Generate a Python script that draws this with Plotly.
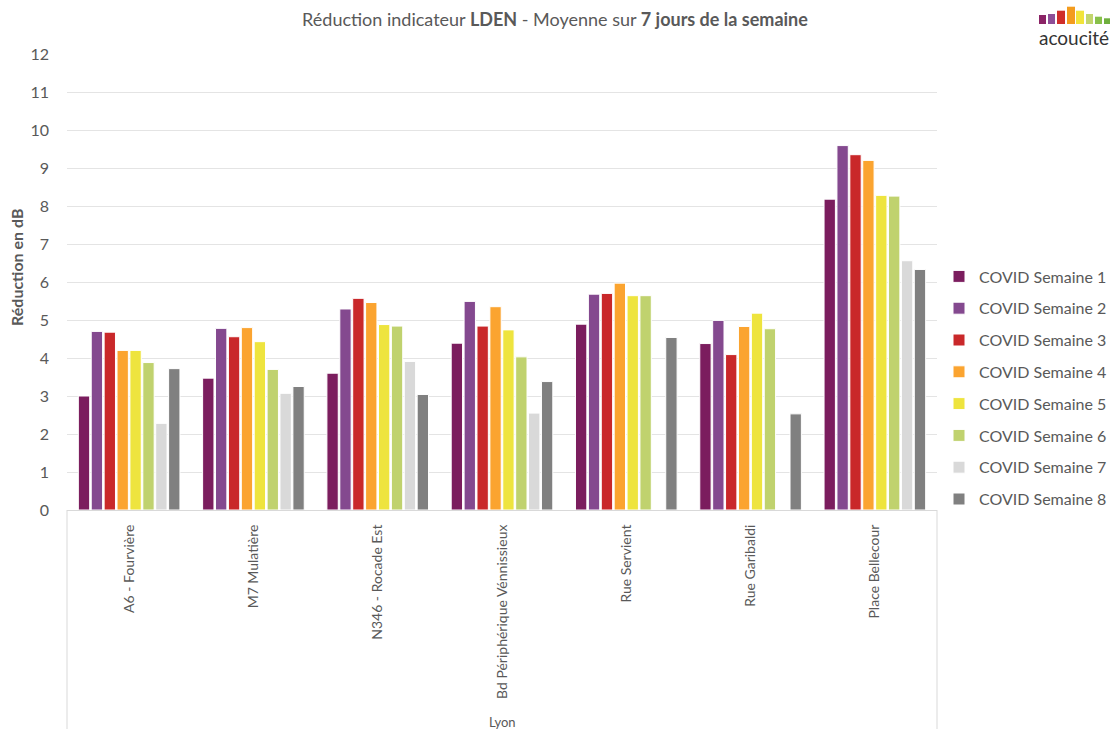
import plotly.graph_objects as go

categories = ["A6 - Fourvière", "M7 Mulatière", "N346 - Rocade Est",
              "Bd Périphérique Vénnissieux", "Rue Servient", "Rue Garibaldi",
              "Place Bellecour"]
series_names = ["COVID Semaine 1", "COVID Semaine 2", "COVID Semaine 3", "COVID Semaine 4",
                "COVID Semaine 5", "COVID Semaine 6", "COVID Semaine 7", "COVID Semaine 8"]
semaine1 = [3.00, 3.47, 3.60, 4.39, 4.89, 4.38, 8.18]
semaine2 = [4.70, 4.78, 5.29, 5.49, 5.68, 4.99, 9.59]
semaine3 = [4.68, 4.56, 5.57, 4.84, 5.70, 4.09, 9.35]
semaine4 = [4.20, 4.80, 5.46, 5.35, 5.97, 4.83, 9.20]
semaine5 = [4.20, 4.43, 4.88, 4.74, 5.64, 5.18, 8.28]
semaine6 = [3.88, 3.70, 4.84, 4.03, 5.64, 4.77, 8.26]
semaine7 = [2.28, 3.07, 3.91, 2.55, None, None, 6.56]
semaine8 = [3.72, 3.25, 3.04, 3.38, 4.54, 2.53, 6.33]
all_series = [semaine1, semaine2, semaine3, semaine4, semaine5, semaine6, semaine7, semaine8]
colors = ["#7B1D5E", "#84498F", "#C9282A", "#FBA430", "#EEE43E", "#C0D26E", "#D9D9D9", "#808080"]
y_ticks = list(range(0, 13))

W, H = 1113, 729
L, R, T, B = 67, 937, 54, 510

def px(x):
    return (x - L) / (R - L)

def py(y):
    return (B - y) / (B - T)

FONT = "Lato"
GREY = "#595959"

fig = go.Figure()
for name, vals, col in zip(series_names, all_series, colors):
    fig.add_trace(go.Bar(
        x=categories, y=vals, name=name, legendgroup=name,
        marker=dict(color=col, line=dict(color="white", width=1)),
    ))

shapes = [
    dict(type="line", xref="paper", yref="paper", x0=0, x1=0, y0=0, y1=py(729),
         line=dict(color="#D9D9D9", width=1)),
    dict(type="line", xref="paper", yref="paper", x0=1, x1=1, y0=0, y1=py(729),
         line=dict(color="#D9D9D9", width=1)),
]
# logo bars
logo = [(1039, 1046, 15, "#8B2466"), (1048, 1055, 14, "#8E4E97"), (1057, 1065, 10.7, "#D02E2A"),
        (1067, 1075, 6.7, "#F39C1E"), (1076, 1084, 10.7, "#F2E43A"), (1086, 1093, 14, "#C2D56E"),
        (1095, 1102, 16.7, "#88C04A"), (1104, 1110, 18.3, "#6FAF3E")]
for x0, x1, top, c in logo:
    shapes.append(dict(type="rect", xref="paper", yref="paper", x0=px(x0), x1=px(x1),
                       y0=py(24), y1=py(top), fillcolor=c, line=dict(width=0)))

annotations = [
    dict(text="Lyon", xref="paper", yref="paper", x=px(502), y=py(722), showarrow=False,
         font=dict(family=FONT, size=13, color=GREY), xanchor="center", yanchor="middle"),
    dict(text="<b>Réduction en dB</b>", xref="paper", yref="paper", x=px(16), y=py(268),
         textangle=-90, showarrow=False, font=dict(family=FONT, size=16, color=GREY),
         xanchor="center", yanchor="middle"),
    dict(text="acoucité", xref="paper", yref="paper", x=px(1074), y=py(37), showarrow=False,
         font=dict(family=FONT, size=19, color="#333333"), xanchor="center", yanchor="middle"),
]

fig.update_layout(
    width=W, height=H,
    margin=dict(l=L, r=W - R, t=T, b=H - B, pad=0, autoexpand=False),
    paper_bgcolor="white", plot_bgcolor="white",
    barmode="group", bargap=0.17, bargroupgap=0.12,
    title=dict(text="Réduction indicateur <b>LDEN</b> - Moyenne sur <b>7 jours de la semaine</b>",
               x=555 / W, y=1 - 20 / H, xanchor="center", yanchor="middle", xref="container", yref="container",
               font=dict(family=FONT, size=18, color=GREY)),
    font=dict(family=FONT, color=GREY),
    legend=dict(x=px(939), y=py(388), xanchor="left", yanchor="middle",
                font=dict(family=FONT, size=16, color=GREY), tracegroupgap=8,
                bgcolor="rgba(0,0,0,0)", itemclick=False),
    shapes=shapes, annotations=annotations,
    xaxis=dict(type="category", tickangle=-90, tickfont=dict(family=FONT, size=14, color=GREY),
               showline=True, linecolor="#D9D9D9", linewidth=1, ticks="", showgrid=False,
               ticklabelstandoff=8, automargin=False),
    yaxis=dict(range=[0, 12], tickvals=y_ticks, tickfont=dict(family=FONT, size=16, color=GREY),
               showgrid=True, gridcolor="#E4E4E4", gridwidth=1, zeroline=False, showline=False,
               ticks="", ticklabelstandoff=17, automargin=False),
)

fig.write_html("out.html")
